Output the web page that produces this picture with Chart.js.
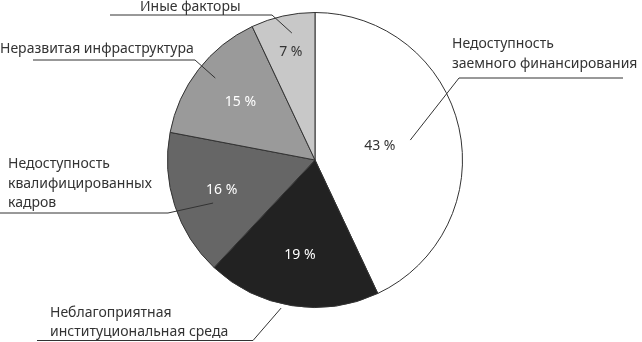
<!DOCTYPE html>
<html>
<head>
<meta charset="utf-8">
<script src="https://cdn.jsdelivr.net/npm/chart.js@4"></script>
<style>
  html, body { margin: 0; padding: 0; background: #fff; }
  #wrap { width: 642px; height: 342px; }
</style>
</head>
<body>
<div id="wrap"><canvas id="pieChart" width="642" height="342"></canvas></div>
<script>
// данные
var categories = [
    ['Недоступность', 'заемного финансирования'],
    ['Неблагоприятная', 'институциональная среда'],
    ['Недоступность', 'квалифицированных', 'кадров'],
    ['Неразвитая инфраструктура'],
    ['Иные факторы']
];
var values = [43, 19, 16, 15, 7];
var sliceColors = ['#ffffff', '#222222', '#666666', '#9a9a9a', '#c8c8c8'];
var pctColors = ['#333333', '#ffffff', '#ffffff', '#ffffff', '#333333'];

// раскладка подписей (только положение, не данные)
var pctRadius = [0.45, 0.655, 0.665, 0.64, 0.75];
var leader = [
    // inner: доля радиуса и доля угла сектора; elbow: излом; endX: конец полки
    { r: 0.66, a: 0.505, elbow: [459, 78], endX: 623 },
    { r: 1.03, a: 0.557, elbow: [253, 340.5], endX: 37 },
    { r: 0.75, a: 0.415, elbow: [168, 213], endX: 0 },
    { r: 0.875, a: 0.53, elbow: [195, 60], endX: 33 },
    { r: 0.875, a: 0.59, elbow: [272, 15], endX: 110 }
];
var textPos = [
    { x: 452, y: 48, step: 20 },
    { x: 50, y: 317, step: 19 },
    { x: 8, y: 168, step: 19.5 },
    { x: 0, y: 53, step: 20 },
    { x: 140, y: 11, step: 20 }
];

var FONT = '14px "Noto Sans", sans-serif';

var labelPlugin = {
    id: 'pieLabels',
    afterDatasetsDraw: function(chart) {
        var ctx = chart.ctx;
        var meta = chart.getDatasetMeta(0);
        ctx.save();
        ctx.font = FONT;
        meta.data.forEach(function(arc, i) {
            var p = arc.getProps(['x', 'y', 'startAngle', 'endAngle', 'outerRadius'], true);
            var mid = (p.startAngle + p.endAngle) / 2;
            // проценты
            var rr = p.outerRadius * pctRadius[i];
            ctx.fillStyle = pctColors[i];
            ctx.textAlign = 'center';
            ctx.textBaseline = 'middle';
            ctx.fillText(values[i] + ' %', p.x + Math.cos(mid) * rr, p.y + Math.sin(mid) * rr);

            // выноска
            var L = leader[i];
            var ang = p.startAngle + (p.endAngle - p.startAngle) * L.a;
            var ir = p.outerRadius * L.r;
            ctx.strokeStyle = '#333333';
            ctx.lineWidth = 1;
            ctx.beginPath();
            ctx.moveTo(p.x + Math.cos(ang) * ir, p.y + Math.sin(ang) * ir);
            ctx.lineTo(L.elbow[0], L.elbow[1]);
            ctx.lineTo(L.endX, L.elbow[1]);
            ctx.stroke();

            // название
            var t = textPos[i];
            ctx.fillStyle = '#333333';
            ctx.textAlign = 'left';
            ctx.textBaseline = 'alphabetic';
            categories[i].forEach(function(line, k) {
                ctx.fillText(line, t.x, t.y + k * t.step);
            });
        });
        ctx.restore();
    }
};

var ctx1 = document.getElementById('pieChart').getContext('2d');
new Chart(ctx1, {
    type: 'pie',
    data: {
        labels: categories.map(function(c) { return c.join(' '); }),
        datasets: [{
            data: values,
            backgroundColor: sliceColors,
            borderColor: '#333333',
            borderWidth: 1
        }]
    },
    options: {
        responsive: false,
        animation: false,
        layout: { padding: { left: 167, right: 179, top: 12, bottom: 34 } },
        plugins: {
            legend: { display: false },
            tooltip: { enabled: false }
        }
    },
    plugins: [labelPlugin]
});
</script>
</body>
</html>
